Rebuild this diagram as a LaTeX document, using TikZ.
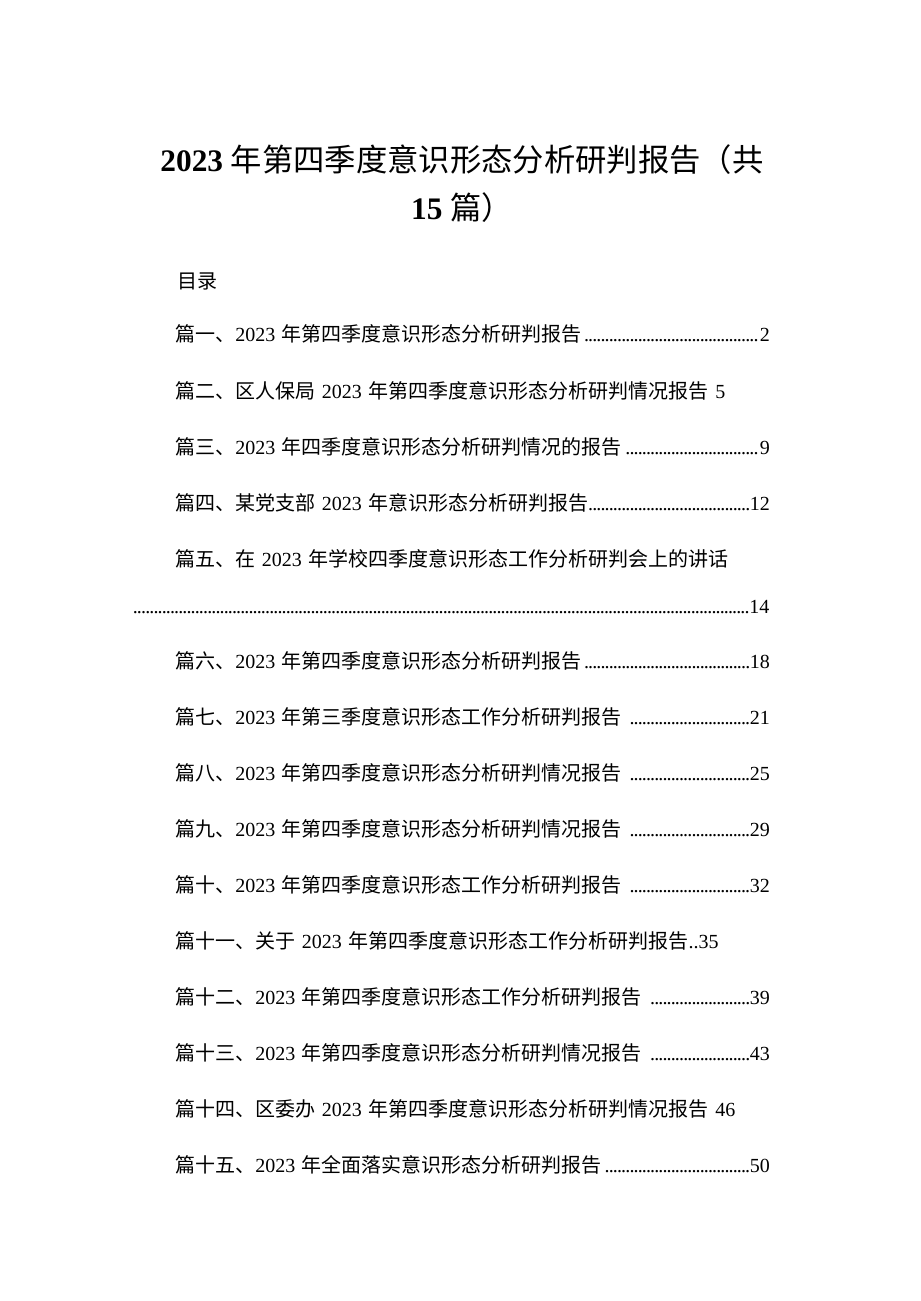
\documentclass[tikz,border=0pt]{standalone}
\usepackage{fontspec}
\setmainfont{Liberation Serif}
\newfontfamily\cjk{Noto Sans CJK SC}
\tikzset{
	x=0.75pt, y=-0.75pt,
	entry/.style={anchor=west, inner sep=0pt, text width=446pt, align=left, font=\fontsize{15pt}{18pt}\selectfont},
	heading/.style={inner sep=0pt, font=\fontsize{23.5pt}{28pt}\selectfont}
}
\newcommand{\cn}[1]{{\cjk #1}}
\newcommand{\dotrun}{\leaders\hbox to 3.1pt{\hss.\hss}\hfill}
\begin{document}
\begin{tikzpicture}
    \fill[white] (0,0) rectangle (920,1301);
    % title
    \node(title1)[heading] at (462,160){\textbf{2023} \cn{年第四季度意识形态分析研判报告（共}};
    \node(title2)[heading] at (462,208){\textbf{15} \cn{篇）}};
    \node(toc)[entry] at (177,281){\cn{目录}};
    % entries
    \node(e1)[entry] at (175,334){\cn{篇一、}2023 \cn{年第四季度意识形态分析研判报告}\dotrun 2};
    \node(e2)[entry] at (175,391){\cn{篇二、区人保局} 2023 \cn{年第四季度意识形态分析研判情况报告} 5};
    \node(e3)[entry] at (175,447){\cn{篇三、}2023 \cn{年四季度意识形态分析研判情况的报告}\dotrun 9};
    \node(e4)[entry] at (175,503){\cn{篇四、某党支部} 2023 \cn{年意识形态分析研判报告}\dotrun 12};
    \node(e5)[entry] at (175,559){\cn{篇五、在} 2023 \cn{年学校四季度意识形态工作分析研判会上的讲话}};
    \node(e5b)[entry, text width=477pt] at (133,607){\dotrun 14};
    \node(e6)[entry] at (175,661){\cn{篇六、}2023 \cn{年第四季度意识形态分析研判报告}\dotrun 18};
    \node(e7)[entry] at (175,717){\cn{篇七、}2023 \cn{年第三季度意识形态工作分析研判报告} \dotrun 21};
    \node(e8)[entry] at (175,773){\cn{篇八、}2023 \cn{年第四季度意识形态分析研判情况报告} \dotrun 25};
    \node(e9)[entry] at (175,829){\cn{篇九、}2023 \cn{年第四季度意识形态分析研判情况报告} \dotrun 29};
    \node(e10)[entry] at (175,885){\cn{篇十、}2023 \cn{年第四季度意识形态工作分析研判报告} \dotrun 32};
    \node(e11)[entry] at (175,941){\cn{篇十一、关于} 2023 \cn{年第四季度意识形态工作分析研判报告}..35};
    \node(e12)[entry] at (175,997){\cn{篇十二、}2023 \cn{年第四季度意识形态工作分析研判报告} \dotrun 39};
    \node(e13)[entry] at (175,1053){\cn{篇十三、}2023 \cn{年第四季度意识形态分析研判情况报告} \dotrun 43};
    \node(e14)[entry] at (175,1109){\cn{篇十四、区委办} 2023 \cn{年第四季度意识形态分析研判情况报告} 46};
    \node(e15)[entry] at (175,1165){\cn{篇十五、}2023 \cn{年全面落实意识形态分析研判报告}\dotrun 50};
\end{tikzpicture}
\end{document}
